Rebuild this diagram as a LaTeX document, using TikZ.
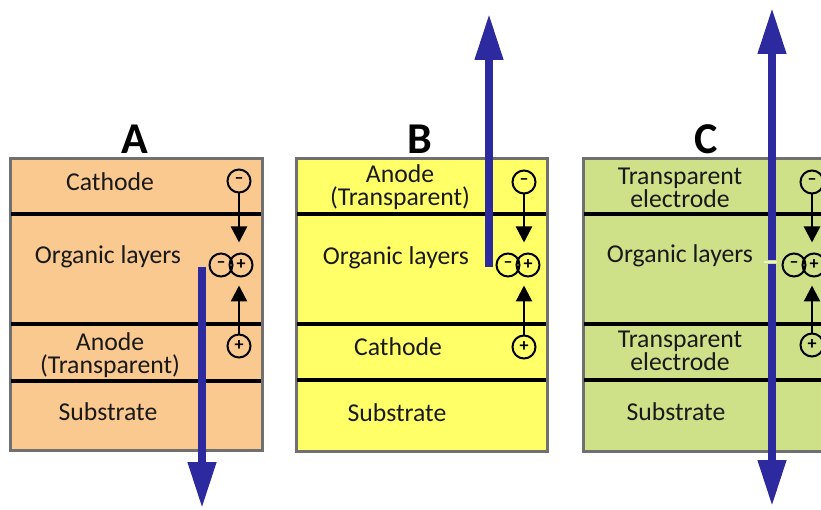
\documentclass[tikz,border=0pt]{standalone}
\usepackage{fontspec}
\setmainfont{Carlito}
\usetikzlibrary{arrows.meta, positioning}

\definecolor{boxgray}{RGB}{112,112,112}
\definecolor{peach}{RGB}{250,201,143}
\definecolor{lemon}{RGB}{255,255,104}
\definecolor{olive}{RGB}{206,224,136}
\definecolor{lightray}{RGB}{44,42,158}
\definecolor{textdark}{RGB}{25,25,25}

\begin{document}
\begin{tikzpicture}[x=1pt, y=-1pt,
    layer/.style={font=\fontsize{25.7}{22.5}\selectfont, text=textdark, align=center, inner sep=0pt},
    panel/.style={font=\fontsize{44}{44}\selectfont\bfseries, inner sep=0pt},
    device/.style={draw=boxgray, line width=3pt},
    sep/.style={line width=3.4pt},
    charge/.style={circle, draw, line width=2pt, minimum size=23pt, inner sep=0pt, font=\fontsize{18}{18}\selectfont\bfseries},
    move/.style={-{Triangle[width=16pt,length=16pt]}, line width=2.4pt},
    light/.style={draw=lightray, line width=7.5pt, -{Triangle[width=27pt,length=46pt]}}]

    \useasboundingbox (0,0) rectangle (821,510);
    \clip (0,0) rectangle (821,510);

    % A: bottom emission
    \draw[device, fill=peach] (10,159) rectangle (262,450);
    \draw[sep] (11,214) -- (261,214);
    \draw[sep] (11,324) -- (261,324);
    \draw[sep] (11,381) -- (261,381);
    \node[panel] (labA) at (135,139) {A};
    \node[layer] (Acath) at (110,182) {Cathode};
    \node[layer] (Aorg) at (108,257) {Organic layers};
    \node[layer] (Aanode) at (110,355) {Anode\\(Transparent)};
    \node[layer] (Asub) at (108,412) {Substrate};

    \node[charge] (Aneg) at (239,181) {–};
    \node[charge] (Ael) at (221,265) {–};
    \node[charge] (Aho) at (241,265) {+};
    \node[charge] (Apos) at (239,346) {+};
    \draw[move, shorten >=10pt] (Aneg.south) -- (Aneg.south |- Aho.north);
    \draw[move, shorten >=8pt] (Apos.north) -- (Apos.north |- Aho.south);

    \coordinate (Aemit) at (202,267);
    \coordinate (Aout) at (202,508);
    \draw[light] (Aemit) -- (Aout);

    % B: top emission
    \draw[device, fill=lemon] (296,159) rectangle (547,451);
    \draw[sep] (297,214) -- (546,214);
    \draw[sep] (297,324) -- (546,324);
    \draw[sep] (297,380) -- (546,380);
    \node[panel] (labB) at (420,139) {B};
    \node[layer] (Banode) at (400,187) {Anode\\(Transparent)};
    \node[layer] (Borg) at (396,258) {Organic layers};
    \node[layer] (Bcath) at (398,347) {Cathode};
    \node[layer] (Bsub) at (397,413) {Substrate};

    \node[charge] (Bneg) at (524,182) {–};
    \node[charge] (Bel) at (508,265) {–};
    \node[charge] (Bho) at (528,265) {+};
    \node[charge] (Bpos) at (524,347) {+};
    \draw[move, shorten >=10pt] (Bneg.south) -- (Bneg.south |- Bho.north);
    \draw[move, shorten >=8pt] (Bpos.north) -- (Bpos.north |- Bho.south);

    \coordinate (Bemit) at (489,267);
    \coordinate (Bout) at (489,14);
    \draw[light] (Bemit) -- (Bout);

    % C: transparent
    \draw[device, fill=olive] (583,159) rectangle (840,451);
    \draw[sep] (584,214) -- (839,214);
    \draw[sep] (584,324) -- (839,324);
    \draw[sep] (584,380) -- (839,380);
    \node[panel] (labC) at (706,139) {C};
    \node[layer] (Ctop) at (680,188) {Transparent\\electrode};
    \node[layer] (Corg) at (680,256) {Organic layers};
    \node[layer] (Cbot) at (680,351) {Transparent\\electrode};
    \node[layer] (Csub) at (676,412) {Substrate};

    \node[charge] (Cneg) at (812,182) {–};
    \node[charge] (Cel) at (794,265) {–};
    \node[charge] (Cho) at (814,265) {+};
    \node[charge] (Cpos) at (812,345) {+};
    \draw[move, shorten >=10pt] (Cneg.south) -- (Cneg.south |- Cho.north);
    \draw[move, shorten >=8pt] (Cpos.north) -- (Cpos.north |- Cho.south);

    \coordinate (Cemit) at (772,260);
    \coordinate (Cup) at (772,8);
    \coordinate (Cemit2) at (772,264);
    \coordinate (Cdown) at (772,506);
    \draw[light] (Cemit) -- (Cup);
    \draw[light] (Cemit2) -- (Cdown);
    \draw[line width=1.5pt, draw=olive!40!white] (764,262) -- (777,262);

\end{tikzpicture}
\end{document}
